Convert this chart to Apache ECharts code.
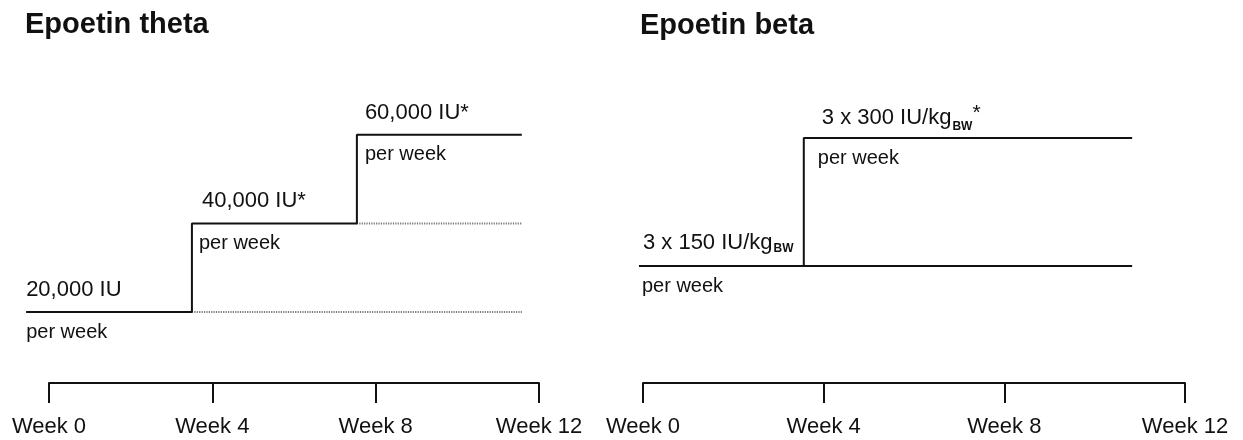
<!DOCTYPE html>
<html><head><meta charset="utf-8">
<script src="https://cdn.jsdelivr.net/npm/echarts@6/dist/echarts.min.js"></script>
<style>html,body{margin:0;padding:0;background:#fff}#c{width:1243px;height:440px}</style>
</head><body><div id="c"></div>
<script>
// ---- data ----
const weekTicks = [0, 4, 8, 12];
const panelTitles = ['Epoetin theta', 'Epoetin beta'];

const thetaWeeks = [-0.56, 3.5, 7.54, 11.58];
const thetaDose = [20000, 40000, 60000, 60000];
const thetaCarryFrom = [3.5, 7.54];
const thetaCarryDose = [20000, 40000];
const thetaEnd = 11.58;
const thetaLabels = ['20,000 IU', '40,000 IU*', '60,000 IU*'];

const betaWeeks = [-0.09, 3.56, 10.83];
const betaDose = [150, 300, 300];
const betaCarryFrom = [3.56];
const betaCarryDose = [150];
const betaEnd = 10.83;
const betaLabels = [['3 x 150 IU/kg', 'BW', ''], ['3 x 300 IU/kg', 'BW', '*']];
const perWeek = 'per week';

// ---- layout ----
const FONT = 'Liberation Sans, Arial, sans-serif';
const INK = '#111';
const W = 1243;
// panel axis pixel spans (week 0 .. week 12)
const panels = [
  {x0: 49, x1: 539, top: 117, yMin: 4000, yMax: 64000},
  {x0: 643, x1: 1185, top: 121, yMin: 13, yMax: 320}
];
const BOTTOM = 57;
const chart = echarts.init(document.getElementById('c'), null, {renderer: 'canvas'});

const grids = [], xAxes = [], yAxes = [];
panels.forEach((p, i) => {
  const pxPerWeek = (p.x1 - p.x0) / 12;
  // visible axis grid (weeks 0..12)
  grids.push({left: p.x0, right: W - p.x1, top: p.top, bottom: BOTTOM});
  xAxes.push({
    gridIndex: 2 * i, type: 'value', min: 0, max: 12, interval: 4,
    axisLine: {show: true, lineStyle: {color: INK, width: 2}},
    axisTick: {show: true, length: 20, lineStyle: {color: INK, width: 2}},
    splitLine: {show: false},
    axisLabel: {formatter: v => 'Week ' + v, fontSize: 22, color: INK, fontFamily: FONT,
      margin: 33, showMinLabel: true, showMaxLabel: true, hideOverlap: false}
  });
  yAxes.push({gridIndex: 2 * i, type: 'value', min: p.yMin, max: p.yMax, show: false});
  // data grid: same scale, extended one week to the left
  grids.push({left: p.x0 - pxPerWeek, right: W - p.x1, top: p.top, bottom: BOTTOM});
  xAxes.push({gridIndex: 2 * i + 1, type: 'value', min: -1, max: 12, show: false});
  yAxes.push({gridIndex: 2 * i + 1, type: 'value', min: p.yMin, max: p.yMax, show: false});
});

function zip(a, b) { return a.map((v, i) => [v, b[i]]); }
const series = [];
series.push({type: 'line', xAxisIndex: 1, yAxisIndex: 1, step: 'end', symbol: 'none',
  data: zip(thetaWeeks, thetaDose), lineStyle: {color: INK, width: 2}, z: 5, silent: true});
thetaCarryFrom.forEach((w, i) => series.push({type: 'line', xAxisIndex: 1, yAxisIndex: 1, symbol: 'none',
  data: [[w, thetaCarryDose[i]], [thetaEnd, thetaCarryDose[i]]],
  lineStyle: {color: '#777', width: 2, type: [1.2, 1.2]}, z: 4, silent: true}));
series.push({type: 'line', xAxisIndex: 3, yAxisIndex: 3, step: 'end', symbol: 'none',
  data: zip(betaWeeks, betaDose), lineStyle: {color: INK, width: 2}, z: 5, silent: true});
betaCarryFrom.forEach((w, i) => series.push({type: 'line', xAxisIndex: 3, yAxisIndex: 3, symbol: 'none',
  data: [[w, betaCarryDose[i]], [betaEnd, betaCarryDose[i]]],
  lineStyle: {color: INK, width: 2}, z: 4, silent: true}));

chart.setOption({
  animation: false,
  backgroundColor: '#fff',
  title: [
    {text: panelTitles[0], left: 25, top: 10, padding: 0, textStyle: {fontSize: 29, fontWeight: 'bold', fontFamily: FONT, color: INK}},
    {text: panelTitles[1], left: 640, top: 11, padding: 0, textStyle: {fontSize: 29, fontWeight: 'bold', fontFamily: FONT, color: INK}}
  ],
  grid: grids, xAxis: xAxes, yAxis: yAxes,
  series: series
});

// ---- annotations positioned from data ----
const graphics = [];
function plainText(gi, pt, dx, dy, text, size) {
  const p = chart.convertToPixel({gridIndex: gi}, pt);
  graphics.push({type: 'text', x: p[0] + dx, y: p[1] + dy, silent: true,
    style: {text: text, fontSize: size, fontFamily: FONT, fill: INK, align: 'left', verticalAlign: 'middle'}});
}
const thetaDx = [0, 10, 8];
const thetaPwDx = [0, 7, 8];
[0, 1, 2].forEach(i => {
  const a = [thetaWeeks[i], thetaDose[i]];
  plainText(1, a, thetaDx[i], -22, thetaLabels[i], 22);
  plainText(1, a, thetaPwDx[i], 20, perWeek, 20);
});
const betaDx = [4, 18];
const betaPwDx = [3, 14];
[0, 1].forEach(i => {
  const a = [betaWeeks[i], betaDose[i]];
  const p = chart.convertToPixel({gridIndex: 3}, a);
  const lab = betaLabels[i];
  graphics.push({type: 'text', x: p[0] + betaDx[i], y: p[1] - 35, silent: true,
    style: {
      text: '{a|' + lab[0] + '}{s|' + lab[1] + '}' + (lab[2] ? '{t|' + lab[2] + '}' : ''),
      align: 'left', verticalAlign: 'top', fill: INK,
      rich: {
        a: {fontSize: 22, lineHeight: 24, fontFamily: FONT, fill: INK, verticalAlign: 'middle'},
        s: {fontSize: 12, lineHeight: 10, fontFamily: FONT, fontWeight: 'bold', fill: INK, verticalAlign: 'bottom', padding: [0, 0, 0, 1]},
        t: {fontSize: 21, lineHeight: 30, fontFamily: FONT, fill: INK, verticalAlign: 'top'}
      }
    }});
  plainText(3, a, betaPwDx[i], 20, perWeek, 20);
});
chart.setOption({graphic: graphics});
</script>
</body></html>
